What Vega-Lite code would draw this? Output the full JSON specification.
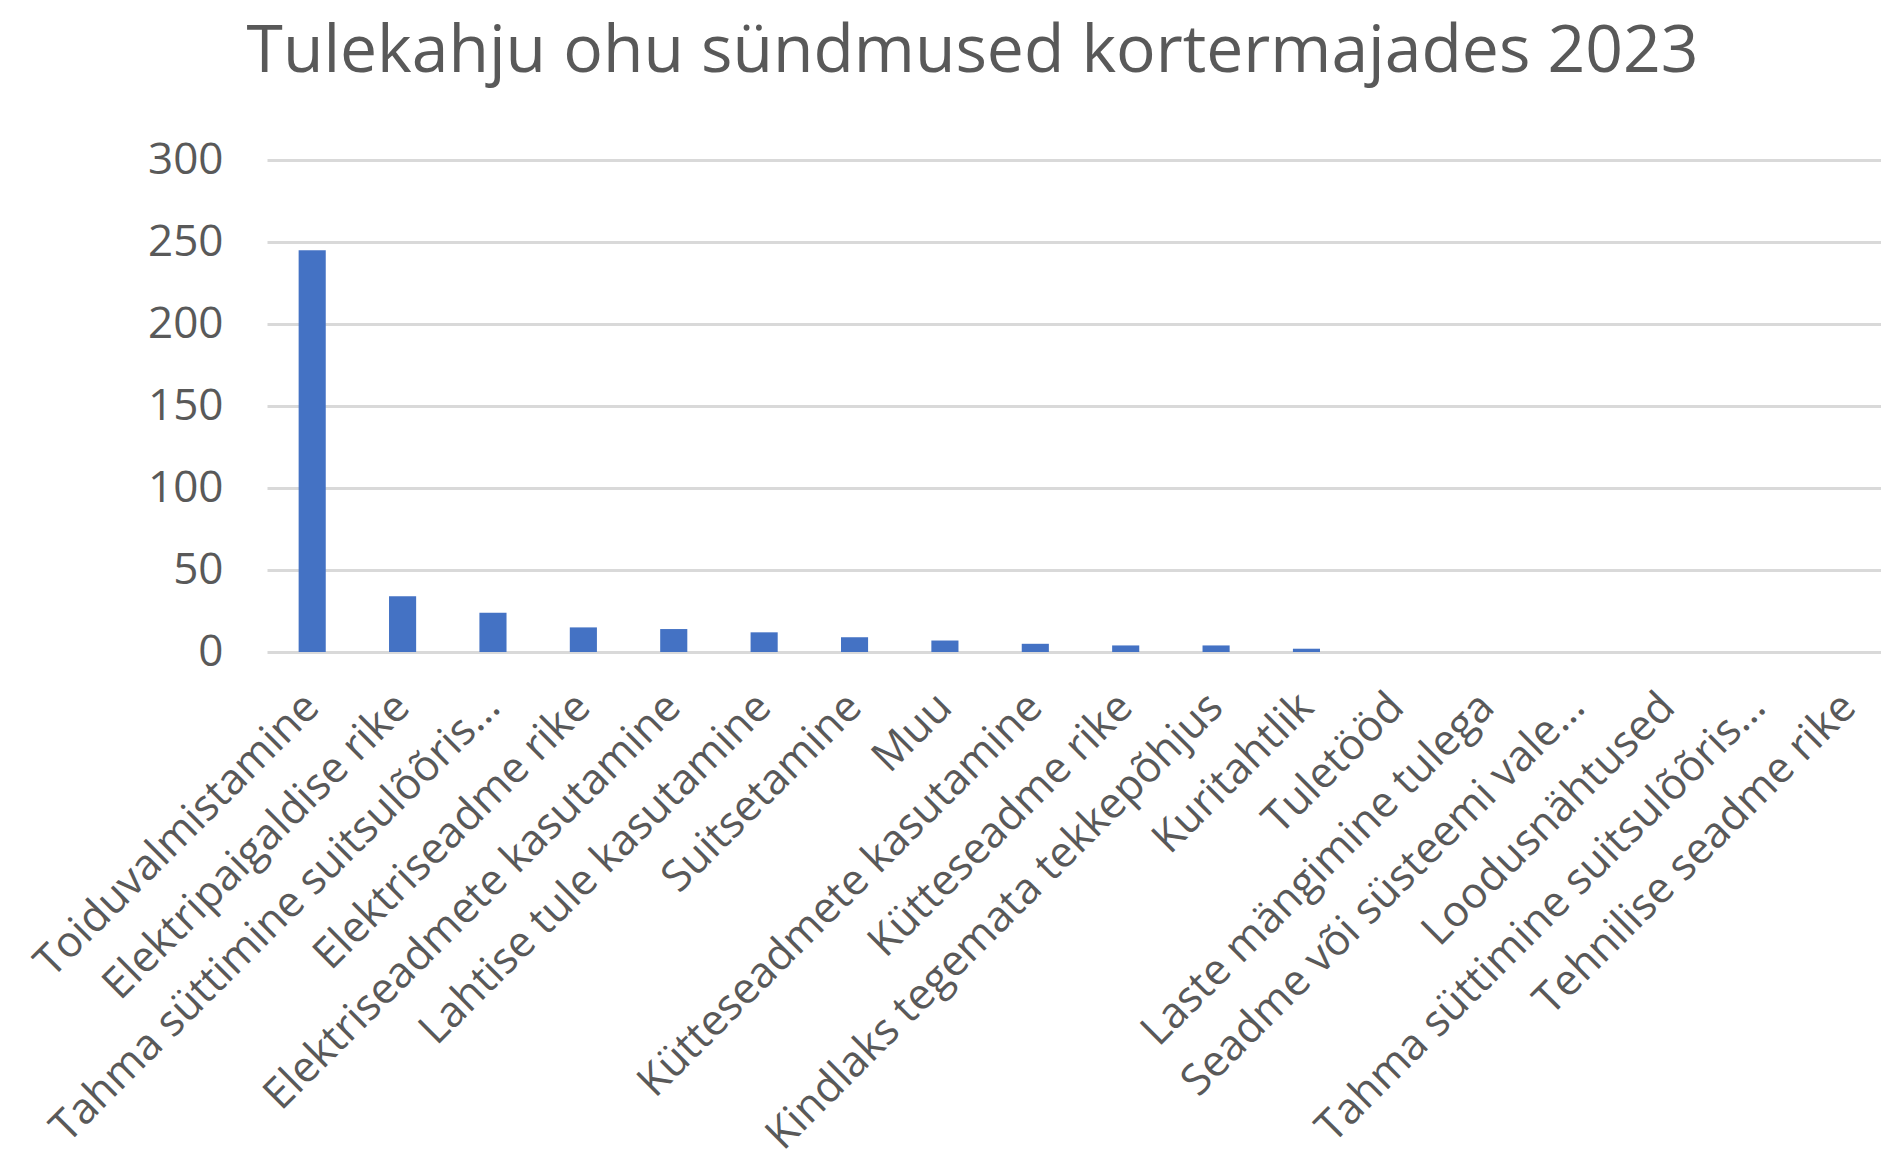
{
  "$schema": "https://vega.github.io/schema/vega-lite/v6.json",
  "autosize": {"type": "none"},
  "padding": {"left": 267, "top": 160, "right": 0, "bottom": 509},
  "width": 1627,
  "height": 492,
  "background": "white",
  "config": {
    "font": "Open Sans",
    "view": {"stroke": null}
  },
  "title": {
    "text": "Tulekahju ohu sündmused kortermajades 2023",
    "font": "Open Sans",
    "fontSize": 66,
    "fontWeight": "normal",
    "color": "#595959",
    "frame": "group",
    "anchor": "middle",
    "baseline": "alphabetic",
    "offset": 0,
    "dx": -108
  },
  "data": {
    "values": [
      {"cause": "Toiduvalmistamine", "count": 245},
      {"cause": "Elektripaigaldise rike", "count": 34},
      {"cause": "Tahma süttimine suitsulõõris…", "count": 24},
      {"cause": "Elektriseadme rike", "count": 15},
      {"cause": "Elektriseadmete kasutamine", "count": 14},
      {"cause": "Lahtise tule kasutamine", "count": 12},
      {"cause": "Suitsetamine", "count": 9},
      {"cause": "Muu", "count": 7},
      {"cause": "Kütteseadmete kasutamine", "count": 5},
      {"cause": "Kütteseadme rike", "count": 4},
      {"cause": "Kindlaks tegemata tekkepõhjus", "count": 4},
      {"cause": "Kuritahtlik", "count": 2},
      {"cause": "Tuletööd", "count": 0},
      {"cause": "Laste mängimine tulega", "count": 0},
      {"cause": "Seadme või süsteemi vale…", "count": 0},
      {"cause": "Loodusnähtused", "count": 0},
      {"cause": "Tahma süttimine suitsulõõris…\u200b", "count": 0},
      {"cause": "Tehnilise seadme rike", "count": 0}
    ]
  },
  "mark": {"type": "bar", "color": "#4472C4"},
  "encoding": {
    "x": {
      "field": "cause",
      "type": "nominal",
      "sort": null,
      "scale": {"paddingInner": 0.7, "paddingOuter": 0.35},
      "axis": {
        "title": null,
        "domain": false,
        "ticks": false,
        "labelAngle": -45,
        "labelAlign": "right",
        "labelBaseline": "middle",
        "labelPadding": 48,
        "labelFontSize": 43,
        "labelColor": "#595959",
        "labelLimit": 0,
        "labelFont": "Open Sans",
        "labelOverlap": false
      }
    },
    "y": {
      "field": "count",
      "type": "quantitative",
      "scale": {"domain": [0, 300]},
      "axis": {
        "title": null,
        "values": [0, 50, 100, 150, 200, 250, 300],
        "domain": false,
        "ticks": false,
        "labelPadding": 44,
        "labelFontSize": 44,
        "labelColor": "#595959",
        "labelFont": "Open Sans",
        "gridColor": "#d9d9d9",
        "gridWidth": 3
      }
    }
  }
}
